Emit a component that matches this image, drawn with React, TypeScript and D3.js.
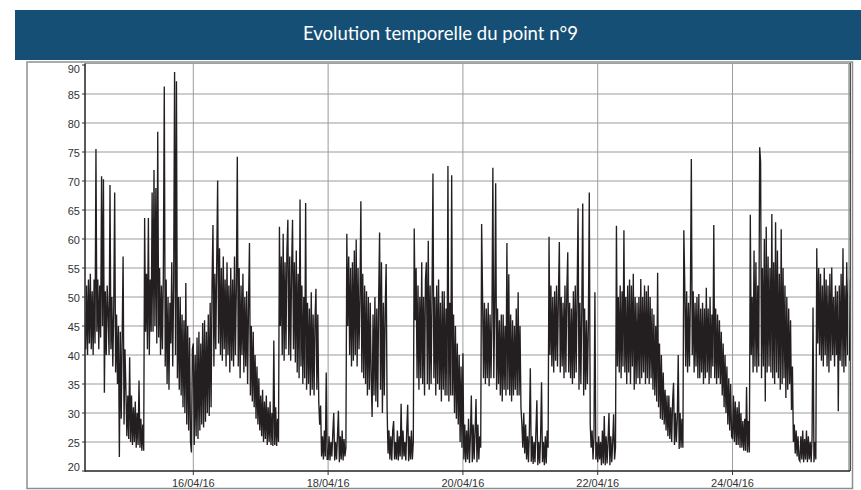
import React from 'react';
import * as d3 from 'd3';

// Noise level readings (dB), one value every 20 minutes, grouped by day of April 2016.
const day14 = [41, 52, 40, 53, 42, 54, 41, 51, 40, 53, 42, 75.5, 44, 53, 41, 52, 43, 70.8, 45, 70.3, 33.5, 51, 40, 52, 47, 40, 69.3, 41, 50, 38, 48, 68, 37, 47, 35, 45, 22.4, 44, 29, 43, 57, 28, 41];
const day15 = [34, 26, 33, 25.5, 39.6, 25, 33, 24.5, 31, 25, 32, 24, 30, 24.5, 35.6, 24, 29, 23.5, 28, 23.5, 63.6, 44, 54, 41, 63.6, 40, 53, 44, 68, 44, 71.9, 45, 68.8, 42, 78.5, 43, 55, 40, 52, 41, 54, 86.3, 38, 53, 35, 50, 34, 49, 42, 56, 38, 52, 88.8, 40, 87.2, 36, 50, 34, 50, 33, 47, 31, 46, 30, 52.4, 28, 45, 27, 43, 25, 23.2, 41];
const day16 = [42, 24.5, 40, 26, 43, 25.5, 44, 27, 42, 28, 45.5, 27.5, 46, 28.5, 44, 30, 47, 29.5, 49, 31, 52, 62.4, 38, 54, 41, 56, 70.1, 42, 58.4, 40, 55, 39, 57, 41, 53, 38, 56, 40, 52, 37, 55, 39, 53, 38, 57, 40, 52, 74.2, 38, 55, 36, 52, 40, 54, 37, 50, 38, 51, 35, 49, 59.3, 33, 45, 32, 44, 31, 40, 29, 38, 28, 36, 27];
const day17 = [33, 26, 34, 25, 32, 25.5, 33, 24.5, 31, 25, 32, 24.5, 30, 24.3, 42.5, 24.5, 31, 24.3, 29, 25, 62.1, 45, 57, 40, 60.9, 39, 56, 41, 58, 63.3, 40, 57, 39, 55, 63.3, 41, 56, 38.7, 58, 37, 54, 36, 66.8, 38, 52, 35, 50, 36, 66.2, 34, 49, 35, 48, 33, 50.8, 34, 47, 33, 46, 51.4, 34, 47, 32, 28, 31.3, 22.5, 26, 22, 27, 22.5, 37, 22];
const day18 = [22, 26, 21.8, 25, 22.5, 26.5, 30, 21.8, 25, 22, 26, 30.4, 21.5, 26, 22, 27, 21.8, 25.5, 22.5, 24, 60.9, 45, 57, 40, 55, 38, 56, 39, 58, 40, 59.9, 38, 55, 41, 50, 66.5, 37, 54, 36, 52, 35, 51, 33, 50, 34, 49, 36, 29.3, 47, 33, 50, 32, 48, 31, 50, 61.1, 34, 56, 30, 49, 33, 48, 55.7, 31, 23, 27, 22, 26, 21.8, 27, 28.6, 22];
const day19 = [25, 22, 27, 21.8, 26, 22.5, 31.6, 22, 27, 22.5, 25, 21.8, 27, 31.4, 21.7, 26, 22, 27, 22, 25, 61.8, 46, 55, 36, 52, 34, 50, 36, 56, 35, 50, 33, 53, 56, 35, 59.7, 34, 52, 35, 50, 71.3, 36, 50, 33, 52, 35, 53, 34, 49, 32, 51, 34, 51, 33, 48, 33, 72.6, 32, 49, 33, 71, 33, 47, 30, 45, 29, 42, 28, 40, 25, 38, 24];
const day20 = [40.3, 22, 28, 21.5, 27, 22, 29, 21.4, 26, 33, 21.5, 28, 22, 27, 32.4, 21.5, 28, 22, 26, 24, 62.6, 50, 36, 49, 35, 48, 36, 49, 34.6, 47, 36, 46, 72.3, 36, 48, 69.6, 34, 48, 35, 46, 33, 47, 32, 47, 34, 45, 33, 59.3, 34, 53.9, 33, 47, 32, 46, 33, 45, 34, 48, 33, 50.8, 33, 45, 31, 28, 24, 30, 23, 28, 22, 26, 21.5, 27];
const day21 = [37.7, 21.6, 26, 21.2, 25, 21.5, 27, 32.2, 21, 25, 21.3, 26, 35.3, 21.5, 25, 21, 26, 21.3, 27, 24, 60.4, 40, 52, 38, 50, 37, 51, 39, 52, 38, 50, 59.5, 37, 50, 38, 49, 36, 52, 37, 51, 57.7, 37, 49, 36, 48, 35, 51, 36, 52, 37, 50, 65.3, 34, 49, 35, 48, 66.1, 33, 48, 34, 46, 35, 45, 68, 28, 24, 27, 22, 26, 50.8, 22, 25];
const day22 = [21.5, 26, 22, 25, 21, 27, 21.3, 29.5, 21, 26, 21.3, 25, 30, 21, 26, 21.5, 25, 29.8, 22, 24, 62.3, 38, 50, 37, 52, 36, 51, 38, 61.5, 37, 50, 35, 52, 37, 53, 35, 52, 38, 54, 34, 50, 35, 49, 36, 50, 35, 53.1, 36, 50, 37, 52, 35, 51, 36, 52, 35, 50, 36, 48, 34, 47, 33, 45, 32, 54.2, 31, 42, 29, 40, 28.8, 37, 28];
const day23 = [34, 27, 33, 26, 33, 25.5, 31, 25, 32, 35.2, 24.5, 30, 25, 29, 40, 23.8, 30, 24, 29, 24, 61.5, 52, 38, 51, 37, 49, 38, 50, 73.8, 40, 51, 37, 49, 38, 50, 36, 50.5, 36, 48, 37, 49, 35, 48, 36, 51.6, 37, 48, 35, 50, 36, 47, 38, 62.4, 36, 48, 35, 47, 36, 46, 35, 44, 33, 42, 31, 40, 30, 38, 28, 36, 27, 35, 26];
const day24 = [25.5, 33, 25, 32, 24.5, 31, 24.5, 32, 24, 30, 24, 28.6, 23.5, 29, 23.5, 34.5, 23.2, 28.6, 23.2, 64.2, 40, 50, 37, 58, 38, 56, 37, 52, 38, 75.8, 73.3, 36, 55, 38, 60, 32, 62.1, 37, 57, 38, 55, 37, 64.3, 36, 56, 35, 62.9, 37, 58, 36, 54, 34, 61.7, 35, 55, 36, 52, 32.6, 50, 34, 48, 35, 46, 30.5, 38, 25, 28, 23, 27, 22.5, 26, 22];
const day25 = [21.7, 26, 22, 27, 21.5, 25.5, 22, 27, 21.5, 26, 22, 25, 21.5, 26, 48.2, 21.5, 25, 22, 58.4, 42, 55, 40, 54, 39, 52, 38, 55, 40, 53, 38, 52, 37, 54, 39, 55.1, 40, 50, 38, 52, 40, 51, 30.3, 52, 39, 54, 38, 58.4, 37, 52, 38, 56, 40, 53, 39];

// [day of month, index of first 20-minute slot, values]
const dailyReadings: [number, number, number[]][] = [
  [14, 29, day14],
  [15, 0, day15],
  [16, 0, day16],
  [17, 0, day17],
  [18, 0, day18],
  [19, 0, day19],
  [20, 0, day20],
  [21, 0, day21],
  [22, 0, day22],
  [23, 0, day23],
  [24, 0, day24],
  [25, 0, day25],
];

const yTicks = [20, 25, 30, 35, 40, 45, 50, 55, 60, 65, 70, 75, 80, 85, 90];
const xTickDays = [16, 18, 20, 22, 24];
const xTickLabels = ['16/04/16', '18/04/16', '20/04/16', '22/04/16', '24/04/16'];
const title = 'Evolution temporelle du point n°9';

type Reading = { t: Date; v: number };

const readings: Reading[] = dailyReadings.flatMap(([day, first, values]) =>
  values.map((v, i) => ({ t: new Date(2016, 3, day, 0, 20 * (first + i)), v }))
);

const W = 861;
const H = 490;
const plot = { left: 85, right: 850, top: 64, bottom: 471 };

export default function App() {
  const x = d3
    .scaleTime()
    .domain([new Date(2016, 3, 14, 9, 26), new Date(2016, 3, 25, 17, 50)])
    .range([plot.left, plot.right]);
  const y = d3.scaleLinear().domain([20, 90]).range([plot.bottom, plot.top + 1]);

  const line = d3
    .line<Reading>()
    .x((d) => x(d.t))
    .y((d) => y(d.v));

  const gridColor = '#9c9c9c';
  const labelFont = "'Liberation Sans', Arial, sans-serif";

  return (
    <svg
      width={W}
      height={H}
      viewBox={`0 0 ${W} ${H}`}
      style={{ position: 'absolute', left: 0, top: 0, background: '#fff' }}
    >
      <defs>
        <clipPath id="plot-clip">
          <rect x={plot.left} y={plot.top} width={plot.right - plot.left} height={plot.bottom - plot.top} />
        </clipPath>
      </defs>
      <rect x={0} y={0} width={W} height={H} fill="#ffffff" />

      {/* title banner */}
      <rect x={15} y={10} width={W - 15} height={50} fill="#154f75" />
      <text
        x={440.5}
        y={40}
        textAnchor="middle"
        fill="#ffffff"
        fontFamily="Lato, 'Open Sans', sans-serif"
        fontSize={19}
        textLength={275}
        lengthAdjust="spacingAndGlyphs"
      >
        {title}
      </text>

      {/* outer frame */}
      <rect x={27} y={62} width={825.5} height={426.5} fill="none" stroke="#8e8e8e" strokeWidth={1.5} />

      {/* horizontal grid */}
      {yTicks.slice(1, -1).map((t) => (
        <line key={`gy${t}`} x1={plot.left} x2={plot.right} y1={y(t)} y2={y(t)} stroke={gridColor} strokeWidth={1} />
      ))}
      {/* vertical grid */}
      {xTickDays.map((d) => {
        const xx = x(new Date(2016, 3, d));
        return <line key={`gx${d}`} x1={xx} x2={xx} y1={plot.top} y2={plot.bottom} stroke={gridColor} strokeWidth={1} />;
      })}

      {/* series */}
      <path
        d={line(readings) ?? ''}
        fill="none"
        stroke="#231f20"
        strokeWidth={1.35}
        strokeLinejoin="miter"
        clipPath="url(#plot-clip)"
      />

      {/* plot borders */}
      <line x1={plot.left} x2={plot.right} y1={63.5} y2={63.5} stroke="#a0a0a0" strokeWidth={1} />
      <line x1={848.5} x2={848.5} y1={63} y2={plot.bottom} stroke="#b5b5b5" strokeWidth={1} />
      <line x1={850.2} x2={850.2} y1={63} y2={plot.bottom} stroke="#222" strokeWidth={1.2} />
      <line x1={plot.left} x2={plot.left} y1={63.5} y2={plot.bottom + 0.8} stroke="#222" strokeWidth={1.5} />
      <line x1={plot.left} x2={plot.right} y1={plot.bottom} y2={plot.bottom} stroke="#222" strokeWidth={1.5} />

      {/* y axis ticks and labels */}
      {yTicks.map((t) => {
        const yy = y(t);
        const ly = Math.min(Math.max(yy + 1.5, 69), 467.5);
        return (
          <g key={`yt${t}`}>
            <line x1={plot.left - 3} x2={plot.left} y1={yy} y2={yy} stroke="#333" strokeWidth={1} />
            <text
              x={plot.left - 5}
              y={ly}
              dy="0.35em"
              textAnchor="end"
              fontFamily={labelFont}
              fontSize={11}
              fill="#333"
            >
              {t}
            </text>
          </g>
        );
      })}

      {/* x axis ticks and labels */}
      {xTickDays.map((d, i) => {
        const xx = x(new Date(2016, 3, d));
        return (
          <g key={`xt${d}`}>
            <line x1={xx} x2={xx} y1={plot.bottom} y2={plot.bottom + 4} stroke="#333" strokeWidth={1} />
            <text x={xx} y={486.5} textAnchor="middle" fontFamily={labelFont} fontSize={11} fill="#333">
              {xTickLabels[i]}
            </text>
          </g>
        );
      })}
    </svg>
  );
}
